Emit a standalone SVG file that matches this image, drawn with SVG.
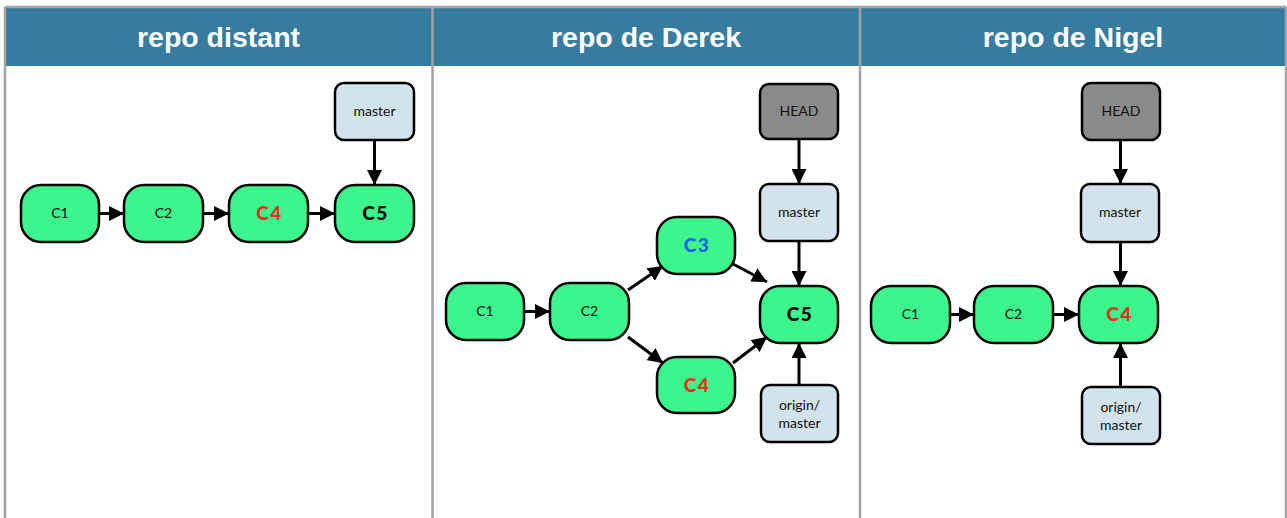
<svg xmlns="http://www.w3.org/2000/svg" width="1287" height="518" viewBox="0 0 1287 518">
<style>
.hdr{fill:#367ca1}
.htxt{font-family:"Liberation Sans",Arial,sans-serif;font-weight:bold;font-size:28.5px;fill:#ffffff;text-anchor:middle}
.grid{stroke:#a3a3a3;stroke-width:2.5;fill:none}
.commit{fill:#3cf58c;stroke:#000;stroke-width:2.5}
.branch{fill:#d3e3ec;stroke:#000;stroke-width:2.5}
.head{fill:#8a8a8a;stroke:#000;stroke-width:2.5}
.t{font-family:Lato,"Open Sans","Liberation Sans",sans-serif;font-size:14px;fill:#111;text-anchor:middle}
.tb{font-family:Lato,"Open Sans","Liberation Sans",sans-serif;font-size:19px;font-weight:900;letter-spacing:1.5px;text-anchor:middle;fill:#000}
.red{fill:#e2321c}
.blue{fill:#1c63ec}
.edge{stroke:#000;stroke-width:3;fill:none;marker-end:url(#ah)}
</style>
<defs>
<marker id="ah" markerUnits="userSpaceOnUse" markerWidth="16" markerHeight="15" refX="15" refY="7.5" orient="auto">
<path d="M0,0 L15,7.5 L0,15 z" fill="#000"/>
</marker>
</defs>
<rect x="0" y="0" width="1287" height="518" fill="#fff"/>
<g id="table">
<rect class="hdr" x="5" y="8" width="1281" height="58"/>
<path class="grid" d="M5,7 H1286 M5,7 V518 M432.5,7 V518 M860,7 V518 M1286,7 V518"/>
<text class="htxt" x="218.5" y="47">repo distant</text>
<text class="htxt" x="646" y="47">repo de Derek</text>
<text class="htxt" x="1073" y="47">repo de Nigel</text>
</g>
<g id="connectors">
<line class="edge" x1="99" y1="213.5" x2="124" y2="213.5"/>
<line class="edge" x1="203" y1="213.5" x2="229" y2="213.5"/>
<line class="edge" x1="308" y1="213.5" x2="335" y2="213.5"/>
<line class="edge" x1="374.5" y1="140" x2="374.5" y2="185"/>
<line class="edge" x1="524" y1="311.5" x2="550" y2="311.5"/>
<line class="edge" x1="628" y1="290" x2="663" y2="266"/>
<line class="edge" x1="628" y1="337" x2="663" y2="363"/>
<line class="edge" x1="733" y1="264" x2="767" y2="282"/>
<line class="edge" x1="733" y1="363" x2="767" y2="337"/>
<line class="edge" x1="799" y1="139" x2="799" y2="184"/>
<line class="edge" x1="799" y1="241" x2="799" y2="286"/>
<line class="edge" x1="799" y1="385" x2="799" y2="343"/>
<line class="edge" x1="950" y1="314.5" x2="974" y2="314.5"/>
<line class="edge" x1="1053" y1="314.5" x2="1079" y2="314.5"/>
<line class="edge" x1="1120.5" y1="140" x2="1120.5" y2="184"/>
<line class="edge" x1="1120.5" y1="242" x2="1120.5" y2="286"/>
<line class="edge" x1="1120.5" y1="387" x2="1120.5" y2="343"/>
</g>
<g id="p1-master"><rect class="branch" x="335" y="83" width="79" height="57" rx="9"/><text class="t" x="374.5" y="116">master</text></g>
<g id="p1-C1"><rect class="commit" x="21" y="185" width="78" height="57" rx="20"/><text class="t" x="60" y="218">C1</text></g>
<g id="p1-C2"><rect class="commit" x="124" y="185" width="79" height="57" rx="20"/><text class="t" x="163.5" y="218">C2</text></g>
<g id="p1-C4"><rect class="commit" x="229" y="185" width="79" height="57" rx="20"/><text class="tb red" x="269.5" y="220">C4</text></g>
<g id="p1-C5"><rect class="commit" x="335" y="185" width="79" height="57" rx="20"/><text class="tb" x="375.5" y="220">C5</text></g>

<g id="p2-HEAD"><rect class="head" x="760" y="84" width="78" height="55" rx="9"/><text class="t" x="799" y="116" font-size="15">HEAD</text></g>
<g id="p2-master"><rect class="branch" x="760" y="184" width="78" height="57" rx="9"/><text class="t" x="799" y="217">master</text></g>
<g id="p2-C1"><rect class="commit" x="446" y="283" width="78" height="57" rx="20"/><text class="t" x="485" y="316">C1</text></g>
<g id="p2-C2"><rect class="commit" x="550" y="283" width="79" height="57" rx="20"/><text class="t" x="589.5" y="316">C2</text></g>
<g id="p2-C3"><rect class="commit" x="657" y="217" width="78" height="57" rx="20"/><text class="tb blue" x="697" y="252">C3</text></g>
<g id="p2-C4"><rect class="commit" x="657" y="357" width="78" height="56" rx="20"/><text class="tb red" x="697" y="391.5">C4</text></g>
<g id="p2-C5"><rect class="commit" x="760" y="286" width="78" height="57" rx="20"/><text class="tb" x="800" y="321">C5</text></g>
<g id="p2-origin"><rect class="branch" x="761" y="385" width="77" height="57" rx="9"/><text class="t" x="799.5" y="410">origin/</text><text class="t" x="799.5" y="428">master</text></g>

<g id="p3-HEAD"><rect class="head" x="1082" y="83" width="78" height="57" rx="9"/><text class="t" x="1121" y="116" font-size="15">HEAD</text></g>
<g id="p3-master"><rect class="branch" x="1081" y="184" width="78" height="58" rx="9"/><text class="t" x="1120" y="217">master</text></g>
<g id="p3-C1"><rect class="commit" x="871" y="286" width="79" height="57" rx="20"/><text class="t" x="910.5" y="319">C1</text></g>
<g id="p3-C2"><rect class="commit" x="974" y="286" width="79" height="57" rx="20"/><text class="t" x="1013.5" y="319">C2</text></g>
<g id="p3-C4"><rect class="commit" x="1079" y="286" width="79" height="57" rx="20"/><text class="tb red" x="1119.5" y="321">C4</text></g>
<g id="p3-origin"><rect class="branch" x="1082" y="387" width="78" height="57" rx="9"/><text class="t" x="1121" y="412">origin/</text><text class="t" x="1121" y="430">master</text></g>
</svg>
